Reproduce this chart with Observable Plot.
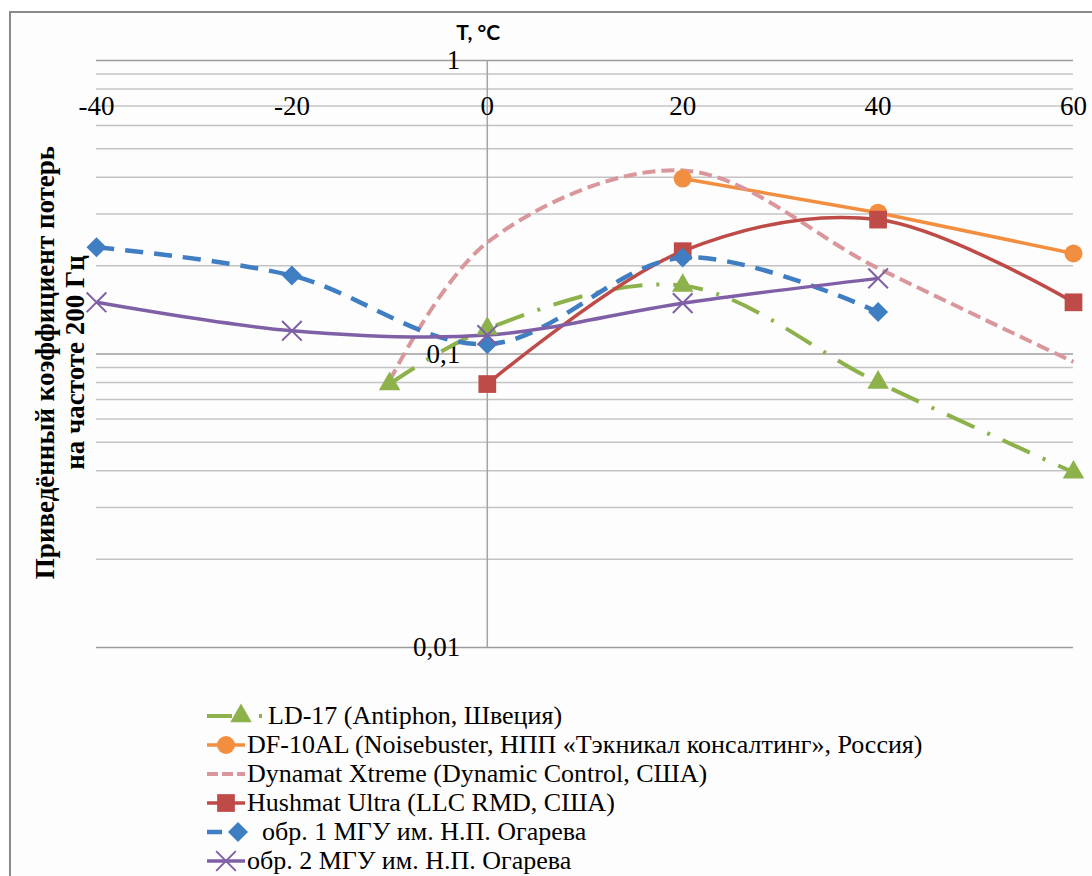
<!DOCTYPE html>
<html>
<head>
<meta charset="utf-8">
<script src="https://cdn.jsdelivr.net/npm/d3@7"></script>
<script src="https://cdn.jsdelivr.net/npm/@observablehq/plot@0.6"></script>
<style>
  html, body { margin: 0; padding: 0; background: #ffffff; }
  body { width: 1092px; height: 876px; overflow: hidden; position: relative; font-family: "Liberation Serif", "Times New Roman", serif; }
  #frame { position: absolute; left: 9px; top: 11px; width: 1200px; height: 1000px; border-left: 2px solid #8a8a8a; border-top: 2px solid #8a8a8a; background: #fdfdfd; }
  #chart { position: absolute; left: 0; top: 0; }
  .row { position: absolute; height: 30px; font-family: "Liberation Serif", "Times New Roman", serif; font-size: 26px; color: #000; white-space: nowrap; line-height: 30px; }
  .row svg { position: absolute; left: 0; top: 0; overflow: visible; }
  .row span { position: absolute; top: 0; font-family: "Liberation Serif", "Times New Roman", serif; }
</style>
</head>
<body>
<div id="frame"></div>
<div id="chart"></div>
<div id="legend"></div>
<script>
// ---------- data ----------
const xTicks = [-40, -20, 0, 20, 40, 60];
const xTickLabels = ["-40", "-20", "0", "20", "40", "60"];
const yTicks = [0.01, 0.1, 1];
const yTickLabels = ["0,01", "0,1", "1"];
const yMinorGrid = [0.02, 0.03, 0.04, 0.05, 0.06, 0.07, 0.08, 0.09, 0.2, 0.3, 0.4, 0.5, 0.6, 0.7, 0.8, 0.9];
const xTitle = "T, °C";
const yTitle = "Приведённый коэффициент потерь\nна частоте 200 Гц";

const seriesNames = [
  "LD-17 (Antiphon, Швеция)",
  "DF-10AL (Noisebuster, НПП «Тэкникал консалтинг», Россия)",
  "Dynamat Xtreme (Dynamic Control, США)",
  "Hushmat Ultra (LLC RMD, США)",
  "обр. 1 МГУ им. Н.П. Огарева",
  "обр. 2 МГУ им. Н.П. Огарева"
];

const ld17Temp = [-10, 0, 20, 40, 60];
const ld17Loss = [0.079, 0.122, 0.171, 0.080, 0.0395];

const df10Temp = [20, 40, 60];
const df10Loss = [0.396, 0.303, 0.220];

const dynamatTemp = [-10, 0, 20, 40, 60];
const dynamatLoss = [0.081, 0.240, 0.422, 0.196, 0.094];

const hushmatTemp = [0, 20, 40, 60];
const hushmatLoss = [0.079, 0.224, 0.287, 0.150];

const mgu1Temp = [-40, -20, 0, 20, 40];
const mgu1Loss = [0.231, 0.185, 0.108, 0.213, 0.139];

const mgu2Temp = [-40, -20, 0, 20, 40];
const mgu2Loss = [0.150, 0.120, 0.116, 0.149, 0.181];

// ---------- styles ----------
const styles = [
  {color: "#8DB24C", dash: "30,14,3,14", width: 4, curve: "catmull-rom", symbol: "triangle", r: 8,
   legend: {x2: 263, dash: "25,27,3,20", mx: 241, tx: 268}},
  {color: "#F28E3F", dash: null, width: 3.5, curve: "linear", symbol: "circle", r: 9,
   legend: {x2: 245, mx: 226, tx: 247}},
  {color: "#D9979B", dash: "13,6", width: 4, curve: "catmull-rom", symbol: null,
   legend: {x2: 245, dash: "11,4", tx: 247}},
  {color: "#BE4B48", dash: null, width: 3.5, curve: "catmull-rom", symbol: "square", r: 10,
   legend: {x2: 245, mx: 226, tx: 247}},
  {color: "#3F7EC3", dash: "18,11", width: 4.5, curve: "catmull-rom", symbol: "diamond2", r: 9,
   legend: {x2: 245, dash: "15,40", mx: 238, tx: 262}},
  {color: "#7F60A6", dash: null, width: 3.5, curve: "catmull-rom", symbol: "times", r: 9,
   legend: {x2: 245, mx: 226, tx: 247}}
];

const toRows = (T, V) => T.map((t, i) => ({t, v: V[i]}));
const seriesData = [
  toRows(ld17Temp, ld17Loss),
  toRows(df10Temp, df10Loss),
  toRows(dynamatTemp, dynamatLoss),
  toRows(hushmatTemp, hushmatLoss),
  toRows(mgu1Temp, mgu1Loss),
  toRows(mgu2Temp, mgu2Loss)
];

const lineMarks = seriesData.map((d, i) => {
  const s = styles[i];
  return Plot.line(d, {x: "t", y: "v", stroke: s.color, strokeWidth: s.width, curve: s.curve,
    strokeDasharray: s.dash || undefined, strokeLinecap: "butt", strokeLinejoin: "round"});
});
const dotMarks = seriesData.map((d, i) => {
  const s = styles[i];
  if (!s.symbol) return null;
  if (s.symbol === "times")
    return Plot.dot(d, {x: "t", y: "v", symbol: "times", r: s.r, stroke: s.color, fill: "none", strokeWidth: 2});
  return Plot.dot(d, {x: "t", y: "v", symbol: s.symbol, r: s.r, fill: s.color, stroke: "none"});
}).filter(Boolean);

const chart = Plot.plot({
  width: 1092,
  height: 690,
  marginLeft: 96,
  marginRight: 19,
  marginTop: 60,
  marginBottom: 43,
  x: {domain: [-40, 60], axis: null},
  y: {type: "log", domain: [0.01, 1], axis: null},
  style: {fontFamily: "'Liberation Serif', 'Times New Roman', serif", fontSize: "27px", background: "transparent", overflow: "visible", color: "#000"},
  marks: [
    Plot.ruleY(yMinorGrid, {x1: -40, x2: 60, stroke: "#c4c4c4", strokeWidth: 1.5}),
    Plot.ruleY(yTicks, {x1: -40, x2: 60, stroke: "#9c9c9c", strokeWidth: 1.5}),
    Plot.ruleX([0], {y1: 0.01, y2: 1, stroke: "#a4a4a4", strokeWidth: 1.5}),
    Plot.text(xTicks, {x: d => d, frameAnchor: "top", dy: 35, text: (d, i) => xTickLabels[i], fontSize: 27, fill: "#000"}),
    Plot.text(yTicks, {x: 0, y: d => d, dx: -27, textAnchor: "end", text: (d, i) => yTickLabels[i], fontSize: 27, fill: "#000"}),
    Plot.text([xTitle], {x: 0, frameAnchor: "top", dx: -31, dy: -21, textAnchor: "start", lineAnchor: "bottom",
      fontFamily: "Lato, 'Open Sans', sans-serif", fontWeight: "bold", fontSize: 21, fill: "#000"}),
    Plot.text([yTitle], {frameAnchor: "left", dx: -37, dy: 8.5, rotate: -90, textAnchor: "middle", lineAnchor: "middle",
      fontSize: 27, fontWeight: "bold", lineHeight: 1.11, fill: "#000"}),
    ...lineMarks,
    ...dotMarks
  ]
});
document.getElementById("chart").appendChild(chart);

// ---------- legend ----------
const legendEl = document.getElementById("legend");
const rowCenters = [716, 745, 774, 803, 832, 861];
const ns = "http://www.w3.org/2000/svg";
const symMap = {triangle: d3.symbolTriangle, circle: d3.symbolCircle, square: d3.symbolSquare, diamond2: d3.symbolDiamond2, times: d3.symbolTimes};
seriesNames.forEach((name, i) => {
  const s = styles[i];
  const L = s.legend;
  const row = document.createElement("div");
  row.className = "row";
  row.style.left = "0px";
  row.style.top = (rowCenters[i] - 15) + "px";
  row.style.width = "1092px";
  const svg = document.createElementNS(ns, "svg");
  svg.setAttribute("width", "300");
  svg.setAttribute("height", "30");
  const line = document.createElementNS(ns, "line");
  line.setAttribute("x1", 207); line.setAttribute("x2", L.x2);
  line.setAttribute("y1", 15); line.setAttribute("y2", 15);
  line.setAttribute("stroke", s.color);
  line.setAttribute("stroke-width", s.width);
  if (L.dash) line.setAttribute("stroke-dasharray", L.dash);
  svg.appendChild(line);
  if (s.symbol) {
    const p = document.createElementNS(ns, "path");
    p.setAttribute("d", d3.symbol(symMap[s.symbol], Math.PI * s.r * s.r)());
    p.setAttribute("transform", `translate(${L.mx},15)`);
    if (s.symbol === "times") { p.setAttribute("stroke", s.color); p.setAttribute("stroke-width", 2); p.setAttribute("fill", "none"); }
    else p.setAttribute("fill", s.color);
    svg.appendChild(p);
  }
  row.appendChild(svg);
  const span = document.createElement("span");
  span.textContent = name;
  span.style.left = L.tx + "px";
  row.appendChild(span);
  legendEl.appendChild(row);
});
</script>
</body>
</html>
